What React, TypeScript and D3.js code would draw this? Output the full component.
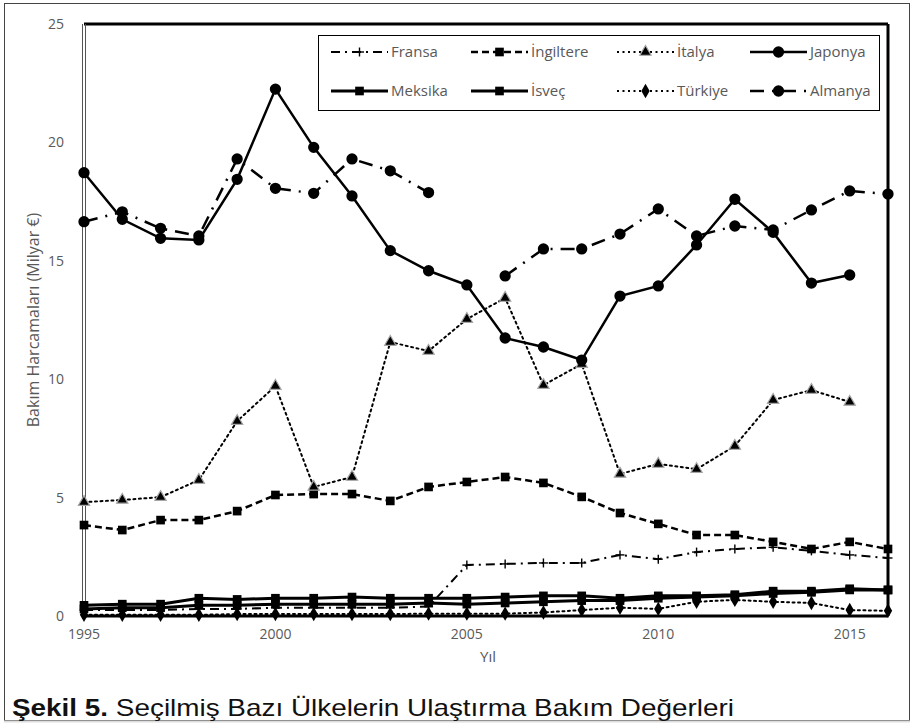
import React from 'react'
import * as d3 from 'd3'

const years = [1995, 1996, 1997, 1998, 1999, 2000, 2001, 2002, 2003, 2004, 2005, 2006, 2007, 2008, 2009, 2010, 2011, 2012, 2013, 2014, 2015, 2016]

const fransa = [0.25, 0.25, 0.25, 0.3, 0.3, 0.35, 0.35, 0.35, 0.35, 0.4, 2.15, 2.2, 2.24, 2.24, 2.58, 2.4, 2.7, 2.83, 2.9, 2.75, 2.58, 2.45]
const ingiltere = [3.84, 3.63, 4.05, 4.05, 4.43, 5.11, 5.15, 5.15, 4.86, 5.45, 5.66, 5.87, 5.62, 5.03, 4.35, 3.89, 3.42, 3.42, 3.13, 2.83, 3.13, 2.83]
const italya = [4.81, 4.9, 5.02, 5.74, 8.23, 9.71, 5.45, 5.87, 11.57, 11.19, 12.54, 13.43, 9.75, 10.64, 6.0, 6.42, 6.2, 7.18, 9.12, 9.54, 9.04, null]
const japonya = [18.72, 16.75, 15.95, 15.88, 18.44, 22.25, 19.79, 17.74, 15.43, 14.58, 13.98, 11.74, 11.36, 10.81, 13.51, 13.94, 15.67, 17.6, 16.2, 14.06, 14.4, null]
const meksika = [0.45, 0.5, 0.5, 0.75, 0.7, 0.75, 0.75, 0.8, 0.75, 0.75, 0.75, 0.8, 0.85, 0.85, 0.75, 0.85, 0.85, 0.9, 1.05, 1.05, 1.15, 1.1]
const isvec = [0.3, 0.35, 0.35, 0.45, 0.45, 0.5, 0.5, 0.5, 0.5, 0.55, 0.5, 0.55, 0.6, 0.65, 0.65, 0.75, 0.8, 0.85, 0.95, 1.0, 1.1, 1.1]
const turkiye = [0.05, 0.05, 0.05, 0.05, 0.08, 0.08, 0.08, 0.08, 0.08, 0.1, 0.1, 0.1, 0.15, 0.25, 0.35, 0.3, 0.6, 0.68, 0.6, 0.55, 0.25, 0.22]
const almanya = [16.65, 17.07, 16.37, 16.05, 19.3, 18.06, 17.85, 19.3, 18.8, 17.88, null, 14.36, 15.5, 15.5, 16.13, 17.19, 16.05, 16.47, 16.3, 17.15, 17.95, 17.82]

const yTicks = [0, 5, 10, 15, 20, 25]
const xTicks = [1995, 2000, 2005, 2010, 2015]

type Marker = 'plus' | 'square' | 'triangle' | 'circle' | 'diamond'

const series: { name: string; values: (number | null)[]; dash: string; marker: Marker; width: number }[] = [
  { name: 'Fransa', values: fransa, dash: '9,5,2,5', marker: 'plus', width: 2 },
  { name: 'İngiltere', values: ingiltere, dash: '7,4', marker: 'square', width: 2.5 },
  { name: 'İtalya', values: italya, dash: '2,3.5', marker: 'triangle', width: 2 },
  { name: 'Japonya', values: japonya, dash: '', marker: 'circle', width: 2.5 },
  { name: 'Meksika', values: meksika, dash: '', marker: 'square', width: 3 },
  { name: 'İsveç', values: isvec, dash: '', marker: 'square', width: 3 },
  { name: 'Türkiye', values: turkiye, dash: '2,3.5', marker: 'diamond', width: 2 },
  { name: 'Almanya', values: almanya, dash: '14,8,2,8', marker: 'circle', width: 2.5 },
]

const W = 914
const H = 727
const left = 84
const right = 888
const top = 24
const bottom = 616

const tickFont = '"Open Sans", Lato, sans-serif'
const gray = '#595959'

const MarkerGlyph = ({ kind, x, y }: { kind: Marker; x: number; y: number }) => {
  if (kind === 'plus') {
    return (
      <g stroke="#000" strokeWidth={1.4}>
        <line x1={x - 4.5} x2={x + 4.5} y1={y} y2={y} />
        <line x1={x} x2={x} y1={y - 4.5} y2={y + 4.5} />
      </g>
    )
  }
  if (kind === 'triangle') {
    const p = d3.symbol().type(d3.symbolTriangle).size(55)()
    return <path d={p || ''} transform={`translate(${x},${y})`} fill="#000" stroke="#a6a6a6" strokeWidth={1.2} />
  }
  const type = kind === 'circle' ? d3.symbolCircle : kind === 'square' ? d3.symbolSquare : d3.symbolDiamond
  const size = kind === 'circle' ? 100 : kind === 'square' ? 75 : 60
  const p = d3.symbol().type(type).size(size)()
  return <path d={p || ''} transform={`translate(${x},${y})`} fill="#000" />
}

const App = () => {
  const x = d3.scaleLinear().domain([1995, 2016]).range([left, right])
  const y = d3.scaleLinear().domain([0, 25]).range([bottom, top])

  const line = d3.line<number | null>()
    .defined(d => d !== null)
    .x((_, i) => x(years[i]))
    .y(d => y(d as number))

  const legendCols = [391, 531, 677, 810]
  const legendRows = [52, 91]

  return (
    <svg width={W} height={H} style={{ position: 'absolute', left: 0, top: 0, background: '#fff' }}>
      <rect x={4.5} y={3.5} width={905} height={717} fill="none" stroke="#444" strokeWidth={1} />
      <line x1={4} x2={910} y1={721.5} y2={721.5} stroke="#ddd" strokeWidth={2} />

      {/* plot frame */}
      <line x1={left} x2={right} y1={top} y2={top} stroke="#000" strokeWidth={3} />
      <line x1={right} x2={right} y1={top} y2={bottom} stroke="#000" strokeWidth={3} />
      <line x1={left} x2={right} y1={bottom} y2={bottom} stroke="#000" strokeWidth={3} />
      <line x1={left - 1.5} x2={left - 1.5} y1={top} y2={bottom} stroke="#555" strokeWidth={1} />
      <line x1={left + 1.5} x2={left + 1.5} y1={top} y2={bottom} stroke="#555" strokeWidth={1} />

      {/* ticks */}
      {yTicks.map(t => (
        <text key={t} x={64} y={y(t)} dy="0.35em" textAnchor="end" fontFamily={tickFont} fontSize={14} fill={gray}>{t}</text>
      ))}
      {xTicks.map(t => (
        <text key={t} x={x(t)} y={639} textAnchor="middle" fontFamily={tickFont} fontSize={14} fill={gray}>{t}</text>
      ))}
      <text x={488} y={662} textAnchor="middle" fontFamily={tickFont} fontSize={15} fill={gray}>Yıl</text>
      <text transform={`translate(39,${(top + bottom) / 2}) rotate(-90)`} textAnchor="middle" fontFamily={tickFont} fontSize={16} fill={gray}>Bakım Harcamaları (Milyar €)</text>

      {/* series */}
      {series.map(s => (
        <g key={s.name}>
          <path d={line(s.values) || ''} fill="none" stroke="#000" strokeWidth={s.width} strokeDasharray={s.dash} strokeLinecap={s.dash.startsWith('2') ? 'round' : 'butt'} />
          {s.values.map((v, i) => v === null ? null : <MarkerGlyph key={i} kind={s.marker} x={x(years[i])} y={y(v)} />)}
        </g>
      ))}

      {/* legend */}
      <rect x={318.5} y={35.5} width={561} height={75} fill="#fff" stroke="#000" strokeWidth={1} />
      {series.map((s, i) => {
        const tx = legendCols[i % 4]
        const ty = legendRows[Math.floor(i / 4)]
        const x1 = tx - 60
        const x2 = tx - 3
        return (
          <g key={s.name}>
            <line x1={x1} x2={x2} y1={ty} y2={ty} stroke="#000" strokeWidth={s.width} strokeDasharray={s.dash} />
            <MarkerGlyph kind={s.marker} x={(x1 + x2) / 2} y={ty} />
            <text x={tx} y={ty} dy="0.35em" fontFamily={tickFont} fontSize={15} fill={gray}>{s.name}</text>
          </g>
        )
      })}

      {/* caption */}
      <text x={12} y={716} fontFamily='"Liberation Sans", Arial, sans-serif' fontSize={24} fill="#111" textLength={722} lengthAdjust="spacingAndGlyphs">
        <tspan fontWeight="bold">Şekil 5.</tspan>
        <tspan> Seçilmiş Bazı Ülkelerin Ulaştırma Bakım Değerleri</tspan>
      </text>
    </svg>
  )
}

export default App
